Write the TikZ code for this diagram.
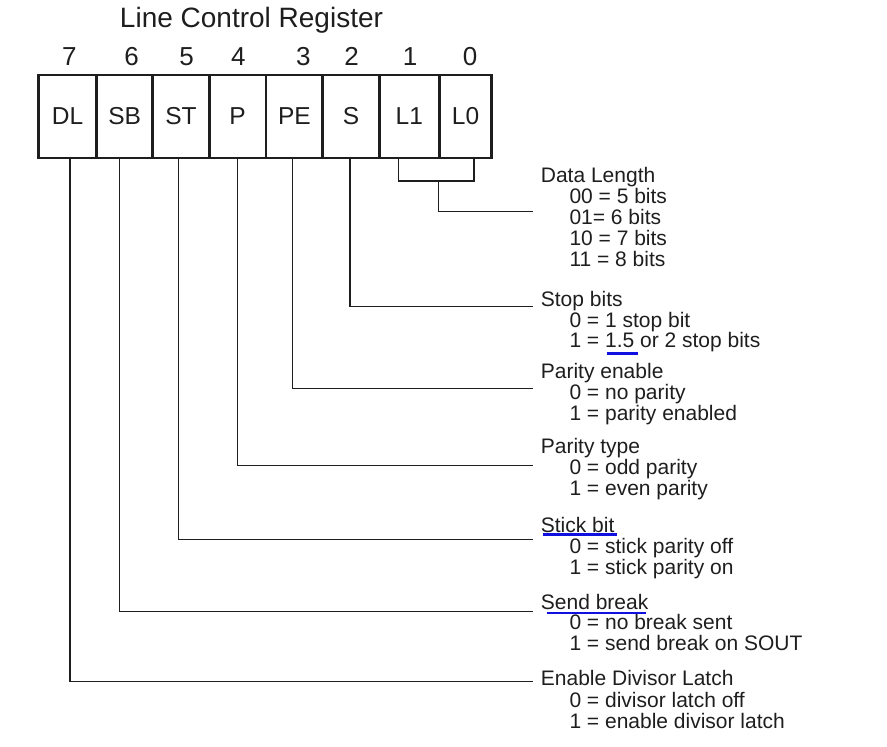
\documentclass[tikz,border=0pt]{standalone}
\usepackage{fontspec}
\setmainfont{Liberation Sans}
\definecolor{ink}{HTML}{1E1E1E}
\definecolor{ulblue}{HTML}{1010E0}
\begin{document}
\begin{tikzpicture}[x=1pt,y=-1pt,
  cell/.style={draw=ink,line width=2.8pt,minimum height=83pt,inner sep=0pt,outer sep=0pt,
    font=\fontsize{24.5}{26}\selectfont,text=ink,anchor=center},
  bitnum/.style={font=\fontsize{26}{28}\selectfont,text=ink,inner sep=0pt,anchor=base},
  ttl/.style={font=\fontsize{28}{30}\selectfont,text=ink,inner sep=0pt,anchor=base},
  head/.style={font=\fontsize{21}{21.3}\selectfont,text=ink,inner sep=0pt,anchor=base west},
  item/.style={font=\fontsize{21}{21.3}\selectfont,text=ink,inner sep=0pt,anchor=base west},
  wire/.style={draw=ink,line width=1.3pt},
  ul/.style={draw=ulblue,line width=2.4pt}]
\useasboundingbox (0,0) rectangle (887,747);

\node[ttl] (title) at (251.5,27.7) {Line Control Register};

% bit numbers
\node[bitnum] (n7) at (69.3,65.5) {7};
\node[bitnum] (n6) at (131.7,65.5) {6};
\node[bitnum] (n5) at (186.7,65.5) {5};
\node[bitnum] (n4) at (238.3,65.5) {4};
\node[bitnum] (n3) at (303.3,65.5) {3};
\node[bitnum] (n2) at (351.7,65.5) {2};
\node[bitnum] (n1) at (410,65.5) {1};
\node[bitnum] (n0) at (470,65.5) {0};

% register cells
\node[cell,minimum width=58.2pt] (cDL) at (67.6,116.5) {DL};
\node[cell,minimum width=56pt]   (cSB) at (124.7,116.5) {SB};
\node[cell,minimum width=56.6pt] (cST) at (181,116.5) {ST};
\node[cell,minimum width=56.7pt] (cP)  at (237.65,116.5) {P};
\node[cell,minimum width=56.7pt] (cPE) at (294.35,116.5) {PE};
\node[cell,minimum width=56.6pt] (cS)  at (351,116.5) {S};
\node[cell,minimum width=60pt]   (cL1) at (409.3,116.5) {L1};
\node[cell,minimum width=52.4pt] (cL0) at (465.5,116.5) {L0};

% connector end points
\coordinate (eDLen) at (533.3,211.7);
\coordinate (eStop) at (533.3,306.7);
\coordinate (ePE)   at (533.3,388.3);
\coordinate (ePT)   at (533.3,465.7);
\coordinate (eST)   at (533.3,539.3);
\coordinate (eSB)   at (533.3,611.7);
\coordinate (eDL)   at (533.3,681.7);
\coordinate (brL1)  at (398.3,181);
\coordinate (brL0)  at (474,181);
\coordinate (brMid) at (438.3,181);

% connectors
\draw[wire] ([xshift=-11pt]cL1.south) -- (brL1) -- (brL0) -- ([xshift=8.5pt]cL0.south);
\draw[wire] (brMid) |- (eDLen);
\draw[wire] ([xshift=-1pt]cS.south) |- (eStop);
\draw[wire] ([xshift=-2pt]cPE.south) |- (ePE);
\draw[wire] ([xshift=0pt]cP.south) |- (ePT);
\draw[wire] ([xshift=-2.7pt]cST.south) |- (eST);
\draw[wire] ([xshift=-5.4pt]cSB.south) |- (eSB);
\draw[wire] ([xshift=2.4pt]cDL.south) |- (eDL);

% descriptions
\node[head] (hDLen) at (540.7,182.7) {Data Length};
\node[item] (iDLen0) at (569.3,203.5) {00 = 5 bits};
\node[item] (iDLen1) at (569.3,224.5) {01= 6 bits};
\node[item] (iDLen2) at (569.3,245.5) {10 = 7 bits};
\node[item] (iDLen3) at (569.3,266.3) {11 = 8 bits};

\node[head] (hStop) at (540.7,306.7) {Stop bits};
\node[item] (iStop0) at (569.3,327) {0 = 1 stop bit};
\node[item] (iStop1) at (569.3,347.5) {1 = 1.5 or 2 stop bits};

\node[head] (hPE) at (540.7,378.3) {Parity enable};
\node[item] (iPE0) at (569.3,399.3) {0 = no parity};
\node[item] (iPE1) at (569.3,420.7) {1 = parity enabled};

\node[head] (hPT) at (540.7,453.3) {Parity type};
\node[item] (iPT0) at (569.3,474.3) {0 = odd parity};
\node[item] (iPT1) at (569.3,495) {1 = even parity};

\node[head] (hST) at (540.7,532.3) {Stick bit};
\node[item] (iST0) at (569.3,553.3) {0 = stick parity off};
\node[item] (iST1) at (569.3,574) {1 = stick parity on};

\node[head] (hSB) at (540.7,609.3) {Send break};
\node[item] (iSB0) at (569.3,629.3) {0 = no break sent};
\node[item] (iSB1) at (569.3,650.7) {1 = send break on SOUT};

\node[head] (hDL) at (540.7,685.7) {Enable Divisor Latch};
\node[item] (iDL0) at (569.3,707.3) {0 = divisor latch off};
\node[item] (iDL1) at (569.3,728.3) {1 = enable divisor latch};

% blue underlines
\coordinate (u1a) at (606.7,353.3); \coordinate (u1b) at (638.3,353.3);
\coordinate (u2a) at (542.7,534.3); \coordinate (u2b) at (617.3,534.3);
\coordinate (u3a) at (546.7,612.7); \coordinate (u3b) at (645.7,612.7);
\draw[ul] (u1a) -- (u1b);
\draw[ul] (u2a) -- (u2b);
\draw[ul] (u3a) -- (u3b);
\end{tikzpicture}
\end{document}
